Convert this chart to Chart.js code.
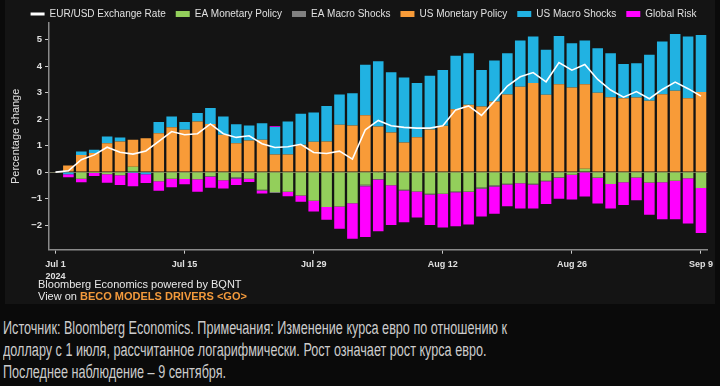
<!DOCTYPE html>
<html>
<head>
<meta charset="utf-8">
<script src="https://cdn.jsdelivr.net/npm/chart.js@4.4.1/dist/chart.umd.min.js"></script>
<style>
  body { margin: 0; background: #0a0a0a; width: 720px; height: 386px; overflow: hidden; font-family: "Liberation Sans", Arial, sans-serif; }
  #panel { position: absolute; left: 5px; top: 0; width: 710px; height: 304px; background: #141414; }
  #chartBox { position: absolute; left: 0; top: 0; width: 713px; height: 288px; }
  .src { position: absolute; left: 33px; color: #e8e8e8; font-size: 11px; white-space: nowrap; }
  .src b { color: #f39a3c; }
  #caption { position: absolute; left: 3px; top: 317px; color: #cccccc; font-size: 18px; line-height: 22px;
    font-family: "Liberation Sans", Arial, sans-serif; white-space: nowrap; transform-origin: 0 0; }
</style>
</head>
<body>
<div id="panel">
  <div id="chartBox"><canvas id="chart"></canvas></div>
  <div class="src" style="top:278px">Bloomberg Economics powered by BQNT</div>
  <div class="src" style="top:290px">View on <b>BECO MODELS DRIVERS &lt;GO&gt;</b></div>
</div>
<div id="caption"><span id="capLine1">Источник: Bloomberg Economics. Примечания: Изменение курса евро по отношению к</span><br>доллару с 1 июля, рассчитанное логарифмически. Рост означает рост курса евро.<br>Последнее наблюдение – 9 сентября.</div>
<script>
// business days, Jul 1 - Sep 9 2024
const days = [
  "Jul 1", "Jul 2", "Jul 3", "Jul 4", "Jul 5", "Jul 8", "Jul 9", "Jul 10", "Jul 11", "Jul 12",
  "Jul 15", "Jul 16", "Jul 17", "Jul 18", "Jul 19", "Jul 22", "Jul 23", "Jul 24", "Jul 25", "Jul 26",
  "Jul 29", "Jul 30", "Jul 31", "Aug 1", "Aug 2", "Aug 5", "Aug 6", "Aug 7", "Aug 8", "Aug 9",
  "Aug 12", "Aug 13", "Aug 14", "Aug 15", "Aug 16", "Aug 19", "Aug 20", "Aug 21", "Aug 22", "Aug 23",
  "Aug 26", "Aug 27", "Aug 28", "Aug 29", "Aug 30", "Sep 2", "Sep 3", "Sep 4", "Sep 5", "Sep 6",
  "Sep 9"
];
const tickDays = ["Jul 1", "Jul 15", "Jul 29", "Aug 12", "Aug 26", "Sep 9"];
const yearLabel = "2024";

const eurUsd = [
  0, 0.05, 0.47, 0.65, 0.94, 0.75, 0.68, 0.8, 1.16, 1.53,
  1.41, 1.45, 1.82, 1.45, 1.31, 1.37, 1.07, 0.93, 0.96, 1.05,
  0.74, 0.7, 0.79, 0.49, 1.6, 1.95, 1.75, 1.69, 1.66, 1.66,
  1.75, 2.35, 2.5, 2.14, 2.68, 3.25, 3.6, 3.76, 3.41, 4.14,
  3.85, 4.06, 3.5, 3.1, 2.83, 3.04, 2.77, 3.12, 3.4, 3.15,
  2.87
];
const eaMonetary = [
  0, 0, -0.25, -0.03, -0.08, -0.12, 0.2, 0, -0.35, -0.25,
  -0.26, -0.27, -0.15, -0.31, -0.19, -0.25, -0.67, -0.75, -0.74, -0.88,
  -1.08, -1.32, -1.3, -1.18, -0.48, -0.26, -0.5, -0.67, -0.73, -0.82,
  -0.82, -0.73, -0.73, -0.58, -0.5, -0.44, -0.42, -0.44, -0.33, -0.19,
  -0.1, 0.13, -0.2, -0.45, -0.38, -0.2, -0.39, -0.38, -0.33, -0.23,
  -0.6
];
const eaMacro = [
  0, 0, 0, 0, 0, 0, 0, 0, 0, 0,
  0, 0, -0.03, 0, -0.05, 0, -0.02, -0.04, 0, 0,
  0, 0, 0, 0, -0.05, -0.02, 0, -0.02, 0, -0.03,
  0, -0.03, -0.02, -0.05, -0.04, -0.03, 0, -0.03, -0.02, -0.02,
  0, 0, -0.02, 0, 0, 0, 0, 0, 0, 0,
  0
];
const usMonetary = [
  0, 0.25, 0.65, 0.72, 1.09, 1.16, 1.02, 1.28, 1.47, 1.69,
  1.6, 1.91, 1.82, 1.41, 1.09, 1.19, 1.22, 0.66, 0.66, 1.03,
  1.15, 1.16, 1.79, 1.76, 2.15, 1.72, 1.5, 1.12, 1.32, 1.61,
  1.75, 2.37, 2.54, 2.48, 2.67, 2.93, 3.22, 3.36, 2.92, 3.32,
  3.19, 3.19, 3.0, 2.83, 2.79, 2.82, 2.69, 2.94, 3.07, 2.79,
  3.02
];
const usMacro = [
  0, -0.08, 0.13, 0.12, 0.25, 0.15, -0.03, -0.08, 0.42, 0.41,
  0.29, 0.32, 0.6, 0.69, 0.72, 0.57, 0.62, 1.04, 1.25, 1.17,
  1.1, 1.34, 1.14, 1.22, 1.9, 2.47, 2.27, 2.45, 2.04, 2.03,
  2.11, 2.02, 1.95, 1.38, 1.54, 1.56, 1.75, 1.76, 1.7, 1.82,
  1.68, 1.65, 1.68, 1.66, 1.29, 1.29, 1.74, 1.99, 2.14, 2.33,
  2.16
];
const globalRisk = [
  0, -0.11, -0.13, -0.12, -0.32, -0.37, -0.5, -0.33, -0.35, -0.32,
  -0.2, -0.47, -0.41, -0.31, -0.25, -0.12, -0.12, 0.03, -0.17, -0.24,
  -0.41, -0.48, -0.84, -1.34, -1.92, -1.95, -1.5, -1.2, -0.98, -1.15,
  -1.27, -1.28, -1.23, -1.05, -1.03, -0.82, -0.95, -0.9, -0.85, -0.8,
  -0.93, -0.92, -0.97, -0.92, -0.86, -0.86, -1.22, -1.4, -1.45, -1.71,
  -1.7
];

const textCol = "#e0e0e0";
const axisCol = "#8a8a8a";

// squeeze the caption to the narrow width of the original
const cap = document.getElementById("caption");
const capW = document.getElementById("capLine1").getBoundingClientRect().width;
cap.style.transform = "scaleX(" + (504 / capW) + ")";

function bars(label, data, color) {
  return {
    type: "bar", label: label, data: data, backgroundColor: color,
    stack: "drivers", order: 1, barPercentage: 0.82, categoryPercentage: 1
  };
}

const isTickDay = i => tickDays.includes(days[i]);

new Chart(document.getElementById("chart"), {
  data: {
    labels: days,
    datasets: [
      { type: "line", label: "EUR/USD Exchange Rate", data: eurUsd, borderColor: "#ffffff",
        borderWidth: 1.6, pointRadius: 0, tension: 0, stack: "fx", order: 0 },
      bars("EA Monetary Policy", eaMonetary, "#93cf5b"),
      bars("EA Macro Shocks", eaMacro, "#808080"),
      bars("US Monetary Policy", usMonetary, "#f89b38"),
      bars("US Macro Shocks", usMacro, "#21b2e2"),
      bars("Global Risk", globalRisk, "#ff00ff")
    ]
  },
  options: {
    responsive: true,
    maintainAspectRatio: false,
    animation: false,
    layout: { padding: { left: 4, right: 0, top: -1 } },
    plugins: {
      tooltip: { enabled: false },
      legend: {
        position: "top",
        maxHeight: 24,
        labels: {
          color: textCol,
          font: { size: 10, family: "'Liberation Sans', Arial, sans-serif" },
          usePointStyle: true,
          pointStyleWidth: 14,
          boxHeight: 6,
          padding: 10,
          generateLabels(chart) {
            const items = Chart.defaults.plugins.legend.labels.generateLabels(chart);
            items.forEach(it => {
              if (it.datasetIndex === 0) {
                it.pointStyle = "line"; it.lineWidth = 3; it.strokeStyle = "#ffffff";
              } else {
                it.pointStyle = "rect"; it.lineWidth = 0; it.strokeStyle = it.fillStyle;
              }
            });
            return items;
          }
        }
      }
    },
    scales: {
      x: {
        stacked: true,
        offset: true,
        border: { color: axisCol, width: 1.5 },
        grid: {
          offset: false, drawOnChartArea: false, drawTicks: true, tickLength: 4,
          tickColor: ctx => isTickDay(ctx.index) ? "#cccccc" : "transparent"
        },
        ticks: {
          autoSkip: false, maxRotation: 0, padding: 5, color: textCol,
          font: { size: 9, weight: "bold", lineHeight: 1.35, family: "'Liberation Sans', Arial, sans-serif" },
          callback: (v, i) => isTickDay(i) ? (i === 0 ? [days[i], yearLabel] : days[i]) : ""
        }
      },
      y: {
        stacked: true,
        min: -2.93,
        max: 5.63,
        border: { color: axisCol, width: 1.5 },
        grid: {
          drawTicks: true, tickLength: 4, tickColor: "#cccccc",
          color: ctx => ctx.tick && ctx.tick.value === 0 ? "#6e6e5a" : "transparent"
        },
        ticks: {
          stepSize: 1, includeBounds: false, padding: 3, color: textCol,
          font: { size: 9.5, weight: "bold", family: "'Liberation Sans', Arial, sans-serif" },
          callback: v => v < 0 ? "\u2212" + Math.abs(v) : String(v)
        },
        title: {
          display: true, text: "Percentage change", color: textCol,
          font: { size: 11, family: "'Liberation Sans', Arial, sans-serif" },
          padding: { top: 0, bottom: 6 }
        }
      }
    }
  }
});
</script>
</body>
</html>
